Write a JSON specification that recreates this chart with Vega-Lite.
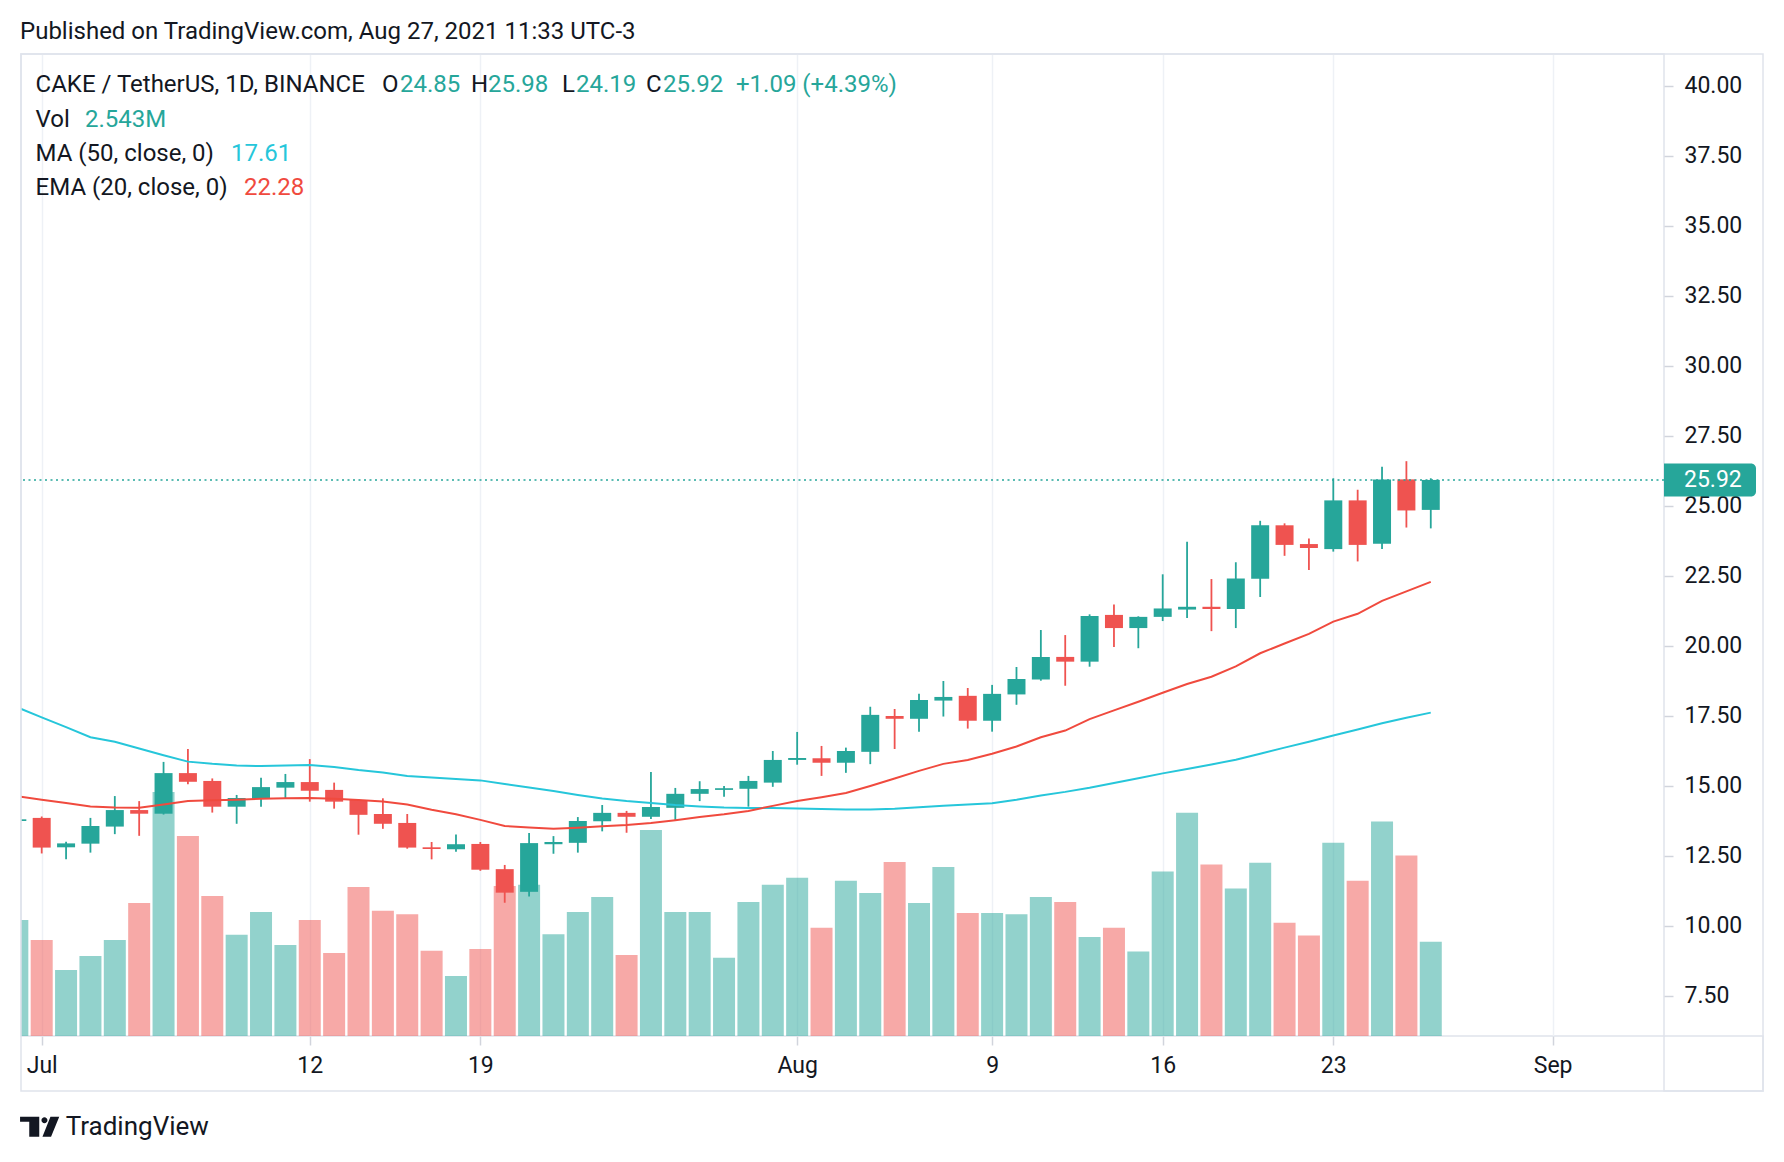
{
  "$schema": "https://vega.github.io/schema/vega-lite/v6.json",
  "width": 1643,
  "height": 982,
  "autosize": {"type": "none"},
  "padding": {"left": 21, "top": 54, "right": 120, "bottom": 126},
  "background": "#ffffff",
  "config": {
    "view": {"stroke": "#e0e3eb", "strokeWidth": 1.5},
    "font": "Roboto",
    "axisX": {"domain": false, "ticks": true, "tickSize": 9, "tickColor": "#d1d4dc", "tickWidth": 1.5, "grid": true, "gridColor": "#eef1f6", "gridWidth": 1.5, "labelFont": "Roboto", "labelFontSize": 23, "labelColor": "#131722", "labelPadding": 20, "labelBaseline": "middle", "labelFlush": false, "labelOverlap": false},
    "axisY": {"domain": false, "ticks": true, "tickSize": 9, "tickColor": "#d1d4dc", "tickWidth": 1.5, "grid": true, "gridColor": "#eef1f6", "gridWidth": 1.5, "labelFont": "Roboto", "labelFontSize": 23, "labelColor": "#131722", "labelAlign": "left", "labelBaseline": "middle", "labelPadding": 11, "labelFlush": false, "labelOverlap": false}
  },
  "datasets": {
    "candles": [
      {"date":"2021-06-30","open":13.74,"high":14.3,"low":13.3,"close":13.8,"volume":3.13,"ma50":17.8,"ema20":14.62},
      {"date":"2021-07-01","open":13.85,"high":13.9,"low":12.58,"close":12.79,"volume":2.59,"ma50":17.44,"ema20":14.5},
      {"date":"2021-07-02","open":12.8,"high":13.0,"low":12.37,"close":12.94,"volume":1.78,"ma50":17.09,"ema20":14.38},
      {"date":"2021-07-03","open":12.93,"high":13.85,"low":12.61,"close":13.56,"volume":2.16,"ma50":16.73,"ema20":14.26},
      {"date":"2021-07-04","open":13.54,"high":14.63,"low":13.27,"close":14.13,"volume":2.59,"ma50":16.57,"ema20":14.22},
      {"date":"2021-07-05","open":14.13,"high":14.45,"low":13.21,"close":14.0,"volume":3.59,"ma50":16.33,"ema20":14.21},
      {"date":"2021-07-06","open":14.0,"high":15.85,"low":13.97,"close":15.45,"volume":6.59,"ma50":16.09,"ema20":14.33},
      {"date":"2021-07-07","open":15.45,"high":16.31,"low":15.05,"close":15.14,"volume":5.4,"ma50":15.86,"ema20":14.45},
      {"date":"2021-07-08","open":15.17,"high":15.26,"low":14.04,"close":14.25,"volume":3.78,"ma50":15.78,"ema20":14.48},
      {"date":"2021-07-09","open":14.25,"high":14.67,"low":13.64,"close":14.56,"volume":2.73,"ma50":15.72,"ema20":14.5},
      {"date":"2021-07-10","open":14.53,"high":15.28,"low":14.25,"close":14.95,"volume":3.35,"ma50":15.7,"ema20":14.53},
      {"date":"2021-07-11","open":14.93,"high":15.42,"low":14.55,"close":15.13,"volume":2.46,"ma50":15.72,"ema20":14.55},
      {"date":"2021-07-12","open":15.13,"high":15.95,"low":14.43,"close":14.82,"volume":3.13,"ma50":15.74,"ema20":14.56},
      {"date":"2021-07-13","open":14.85,"high":15.11,"low":14.18,"close":14.43,"volume":2.24,"ma50":15.67,"ema20":14.53},
      {"date":"2021-07-14","open":14.49,"high":14.52,"low":13.25,"close":13.96,"volume":4.02,"ma50":15.56,"ema20":14.49},
      {"date":"2021-07-15","open":13.99,"high":14.55,"low":13.46,"close":13.64,"volume":3.38,"ma50":15.47,"ema20":14.44},
      {"date":"2021-07-16","open":13.67,"high":13.99,"low":12.75,"close":12.79,"volume":3.29,"ma50":15.35,"ema20":14.33},
      {"date":"2021-07-17","open":12.8,"high":12.99,"low":12.37,"close":12.74,"volume":2.3,"ma50":15.29,"ema20":14.14},
      {"date":"2021-07-18","open":12.73,"high":13.26,"low":12.64,"close":12.91,"volume":1.62,"ma50":15.24,"ema20":13.98},
      {"date":"2021-07-19","open":12.92,"high":12.99,"low":11.96,"close":12.0,"volume":2.35,"ma50":15.19,"ema20":13.78},
      {"date":"2021-07-20","open":12.02,"high":12.17,"low":10.82,"close":11.18,"volume":4.05,"ma50":15.06,"ema20":13.56},
      {"date":"2021-07-21","open":11.21,"high":13.31,"low":11.04,"close":12.95,"volume":4.08,"ma50":14.94,"ema20":13.51},
      {"date":"2021-07-22","open":12.91,"high":13.2,"low":12.57,"close":12.99,"volume":2.75,"ma50":14.81,"ema20":13.46},
      {"date":"2021-07-23","open":12.96,"high":13.88,"low":12.61,"close":13.74,"volume":3.35,"ma50":14.67,"ema20":13.5},
      {"date":"2021-07-24","open":13.73,"high":14.31,"low":13.37,"close":14.03,"volume":3.75,"ma50":14.54,"ema20":13.55},
      {"date":"2021-07-25","open":14.03,"high":14.1,"low":13.32,"close":13.89,"volume":2.19,"ma50":14.45,"ema20":13.6},
      {"date":"2021-07-26","open":13.89,"high":15.49,"low":13.81,"close":14.24,"volume":5.56,"ma50":14.38,"ema20":13.67},
      {"date":"2021-07-27","open":14.21,"high":14.92,"low":13.77,"close":14.71,"volume":3.35,"ma50":14.31,"ema20":13.77},
      {"date":"2021-07-28","open":14.71,"high":15.16,"low":14.45,"close":14.88,"volume":3.35,"ma50":14.26,"ema20":13.88},
      {"date":"2021-07-29","open":14.85,"high":14.99,"low":14.61,"close":14.91,"volume":2.11,"ma50":14.22,"ema20":13.98},
      {"date":"2021-07-30","open":14.89,"high":15.35,"low":14.25,"close":15.17,"volume":3.62,"ma50":14.2,"ema20":14.1},
      {"date":"2021-07-31","open":15.11,"high":16.24,"low":14.96,"close":15.92,"volume":4.08,"ma50":14.2,"ema20":14.28},
      {"date":"2021-08-01","open":15.92,"high":16.92,"low":15.75,"close":15.99,"volume":4.27,"ma50":14.19,"ema20":14.45},
      {"date":"2021-08-02","open":15.98,"high":16.42,"low":15.35,"close":15.82,"volume":2.92,"ma50":14.17,"ema20":14.59},
      {"date":"2021-08-03","open":15.82,"high":16.36,"low":15.46,"close":16.24,"volume":4.19,"ma50":14.15,"ema20":14.74},
      {"date":"2021-08-04","open":16.21,"high":17.82,"low":15.77,"close":17.53,"volume":3.86,"ma50":14.15,"ema20":14.99},
      {"date":"2021-08-05","open":17.49,"high":17.74,"low":16.31,"close":17.39,"volume":4.7,"ma50":14.18,"ema20":15.26},
      {"date":"2021-08-06","open":17.39,"high":18.28,"low":16.93,"close":18.06,"volume":3.59,"ma50":14.23,"ema20":15.53},
      {"date":"2021-08-07","open":18.04,"high":18.74,"low":17.47,"close":18.17,"volume":4.56,"ma50":14.28,"ema20":15.78},
      {"date":"2021-08-08","open":18.21,"high":18.49,"low":17.04,"close":17.32,"volume":3.32,"ma50":14.33,"ema20":15.92},
      {"date":"2021-08-09","open":17.32,"high":18.6,"low":16.93,"close":18.28,"volume":3.32,"ma50":14.37,"ema20":16.14},
      {"date":"2021-08-10","open":18.26,"high":19.24,"low":17.89,"close":18.81,"volume":3.29,"ma50":14.5,"ema20":16.4},
      {"date":"2021-08-11","open":18.79,"high":20.56,"low":18.75,"close":19.6,"volume":3.75,"ma50":14.65,"ema20":16.73},
      {"date":"2021-08-12","open":19.6,"high":20.38,"low":18.57,"close":19.43,"volume":3.62,"ma50":14.78,"ema20":16.97},
      {"date":"2021-08-13","open":19.43,"high":21.12,"low":19.25,"close":21.06,"volume":2.67,"ma50":14.93,"ema20":17.38},
      {"date":"2021-08-14","open":21.1,"high":21.47,"low":19.95,"close":20.63,"volume":2.92,"ma50":15.1,"ema20":17.69},
      {"date":"2021-08-15","open":20.63,"high":21.05,"low":19.91,"close":21.03,"volume":2.28,"ma50":15.27,"ema20":18.0},
      {"date":"2021-08-16","open":21.03,"high":22.55,"low":20.88,"close":21.33,"volume":4.44,"ma50":15.44,"ema20":18.32},
      {"date":"2021-08-17","open":21.29,"high":23.71,"low":20.99,"close":21.39,"volume":6.03,"ma50":15.6,"ema20":18.63},
      {"date":"2021-08-18","open":21.39,"high":22.38,"low":20.52,"close":21.31,"volume":4.63,"ma50":15.76,"ema20":18.89},
      {"date":"2021-08-19","open":21.31,"high":22.98,"low":20.63,"close":22.4,"volume":3.98,"ma50":15.93,"ema20":19.26},
      {"date":"2021-08-20","open":22.39,"high":24.46,"low":21.74,"close":24.3,"volume":4.68,"ma50":16.14,"ema20":19.73},
      {"date":"2021-08-21","open":24.3,"high":24.37,"low":23.21,"close":23.6,"volume":3.06,"ma50":16.36,"ema20":20.08},
      {"date":"2021-08-22","open":23.63,"high":23.83,"low":22.7,"close":23.49,"volume":2.71,"ma50":16.57,"ema20":20.42},
      {"date":"2021-08-23","open":23.45,"high":25.98,"low":23.36,"close":25.19,"volume":5.22,"ma50":16.79,"ema20":20.86},
      {"date":"2021-08-24","open":25.19,"high":25.57,"low":23.01,"close":23.6,"volume":4.19,"ma50":17.01,"ema20":21.14},
      {"date":"2021-08-25","open":23.64,"high":26.39,"low":23.45,"close":25.94,"volume":5.79,"ma50":17.23,"ema20":21.6},
      {"date":"2021-08-26","open":25.94,"high":26.59,"low":24.22,"close":24.83,"volume":4.87,"ma50":17.43,"ema20":21.94},
      {"date":"2021-08-27","open":24.85,"high":25.98,"low":24.19,"close":25.92,"volume":2.543,"ma50":17.61,"ema20":22.28}
    ]
  },
  "data": {"name": "candles"},
  "resolve": {"scale": {"y": "independent"}},
  "layer": [
    {
      "mark": {"type": "bar", "width": 22, "clip": true, "fillOpacity": 0.5},
      "encoding": {
        "x": {
          "field": "date",
          "type": "temporal",
          "title": null,
          "scale": {"type": "utc", "domain": [1625024210220, 1630849302420], "nice": false, "padding": 0},
          "axis": {
            "values": [1625097600000, 1626048000000, 1626652800000, 1627776000000, 1628467200000, 1629072000000, 1629676800000, 1630454400000],
            "labelExpr": "utcdate(datum.value) == 1 ? utcFormat(datum.value, '%b') : utcFormat(datum.value, '%-d')",
            "title": null
          }
        },
        "y": {"field": "volume", "type": "quantitative", "title": null, "scale": {"domain": [0, 26.51], "nice": false, "zero": true, "padding": 0}, "axis": null},
        "color": {"condition": {"test": "datum.close >= datum.open", "value": "#26a69a"}, "value": "#ef5350"}
      }
    },
    {
      "layer": [
        {
          "mark": {"type": "rule", "strokeWidth": 1.8, "clip": true},
          "encoding": {
            "x": {"field": "date", "type": "temporal", "title": null},
            "y": {
              "field": "low",
              "type": "quantitative",
              "title": null,
              "scale": {"domain": [6.061, 41.132], "nice": false, "zero": false, "padding": 0},
              "axis": {
                "orient": "right",
                "values": [7.5, 10, 12.5, 15, 17.5, 20, 22.5, 25, 27.5, 30, 32.5, 35, 37.5, 40],
                "format": ".2f",
                "title": null
              }
            },
            "y2": {"field": "high"},
            "color": {"condition": {"test": "datum.close >= datum.open", "value": "#26a69a"}, "value": "#ef5350"}
          }
        },
        {
          "mark": {"type": "bar", "width": 18, "clip": true},
          "encoding": {
            "x": {"field": "date", "type": "temporal", "title": null},
            "y": {"field": "open", "type": "quantitative", "title": null},
            "y2": {"field": "close"},
            "color": {"condition": {"test": "datum.close >= datum.open", "value": "#26a69a"}, "value": "#ef5350"}
          }
        },
        {
          "mark": {"type": "line", "color": "#26c6da", "strokeWidth": 2, "clip": true},
          "encoding": {
            "x": {"field": "date", "type": "temporal", "title": null},
            "y": {"field": "ma50", "type": "quantitative", "title": null}
          }
        },
        {
          "mark": {"type": "line", "color": "#f04a3e", "strokeWidth": 2, "clip": true},
          "encoding": {
            "x": {"field": "date", "type": "temporal", "title": null},
            "y": {"field": "ema20", "type": "quantitative", "title": null}
          }
        },
        {
          "data": {"values": [{"last": 25.92}]},
          "mark": {"type": "rule", "color": "#26a69a", "strokeWidth": 1.5, "strokeDash": [2, 3.5]},
          "encoding": {"y": {"field": "last", "type": "quantitative", "title": null}}
        },
        {
          "data": {"values": [{"last": 25.92}]},
          "mark": {"type": "rect", "color": "#26a69a", "cornerRadiusTopRight": 5, "cornerRadiusBottomRight": 5},
          "encoding": {
            "x": {"datum": {"expr": "utc(2021, 8, 5, 13, 42)"}, "type": "temporal", "title": null},
            "x2": {"datum": {"expr": "utc(2021, 8, 9, 8, 18)"}},
            "y": {"datum": 25.331, "type": "quantitative", "title": null},
            "y2": {"datum": 26.509}
          }
        },
        {
          "data": {"values": [{"t": "25.92"}]},
          "mark": {"type": "text", "align": "left", "baseline": "middle", "font": "Roboto", "fontSize": 23, "color": "#ffffff"},
          "encoding": {
            "x": {"datum": {"expr": "utc(2021, 8, 6, 9, 24)"}, "type": "temporal", "title": null},
            "y": {"datum": 25.92, "type": "quantitative", "title": null},
            "text": {"field": "t"}
          }
        },
        {
          "data": {"values": [{"frame": "outer"}]},
          "mark": {"type": "rect", "fillOpacity": 0, "stroke": "#e0e3eb", "strokeWidth": 1.5},
          "encoding": {
            "x": {"datum": {"expr": "utc(2021, 5, 30, 3, 37)"}, "type": "temporal", "title": null},
            "x2": {"datum": {"expr": "utc(2021, 8, 9, 15, 12)"}},
            "y": {"datum": 41.132, "type": "quantitative", "title": null},
            "y2": {"datum": 4.096}
          }
        },
        {
          "data": {"values": [{"frame": "corner"}]},
          "mark": {"type": "rect", "fillOpacity": 0, "stroke": "#e0e3eb", "strokeWidth": 1.5},
          "encoding": {
            "x": {"datum": {"expr": "utc(2021, 8, 5, 13, 42)"}, "type": "temporal", "title": null},
            "x2": {"datum": {"expr": "utc(2021, 8, 9, 15, 12)"}},
            "y": {"datum": 6.061, "type": "quantitative", "title": null},
            "y2": {"datum": 4.096}
          }
        },
        {
          "data": {"values": [{"t": "Published on TradingView.com, Aug 27, 2021 11:33 UTC-3"}]},
          "mark": {"type": "text", "align": "left", "baseline": "middle", "font": "Roboto", "fontSize": 24, "color": "#131722"},
          "encoding": {"x": {"datum": {"expr": "utc(2021, 5, 30, 2, 38)"}, "type": "temporal", "title": null}, "y": {"datum": 41.93, "type": "quantitative", "title": null}, "text": {"field": "t"}}
        },
        {
          "data": {"values": [{"t": "CAKE / TetherUS, 1D, BINANCE"}]},
          "mark": {"type": "text", "align": "left", "baseline": "middle", "font": "Roboto", "fontSize": 24, "color": "#131722"},
          "encoding": {"x": {"datum": {"expr": "utc(2021, 5, 30, 17, 59)"}, "type": "temporal", "title": null}, "y": {"datum": 40.025, "type": "quantitative", "title": null}, "text": {"field": "t"}}
        },
        {
          "data": {"values": [{"t": "O"}]},
          "mark": {"type": "text", "align": "left", "baseline": "middle", "font": "Roboto", "fontSize": 24, "color": "#131722"},
          "encoding": {"x": {"datum": {"expr": "utc(2021, 6, 14, 23, 8)"}, "type": "temporal", "title": null}, "y": {"datum": 40.025, "type": "quantitative", "title": null}, "text": {"field": "t"}}
        },
        {
          "data": {"values": [{"t": "24.85"}]},
          "mark": {"type": "text", "align": "left", "baseline": "middle", "font": "Roboto", "fontSize": 24, "color": "#26a69a"},
          "encoding": {"x": {"datum": {"expr": "utc(2021, 6, 15, 16, 52)"}, "type": "temporal", "title": null}, "y": {"datum": 40.025, "type": "quantitative", "title": null}, "text": {"field": "t"}}
        },
        {
          "data": {"values": [{"t": "H"}]},
          "mark": {"type": "text", "align": "left", "baseline": "middle", "font": "Roboto", "fontSize": 24, "color": "#131722"},
          "encoding": {"x": {"datum": {"expr": "utc(2021, 6, 18, 14, 47)"}, "type": "temporal", "title": null}, "y": {"datum": 40.025, "type": "quantitative", "title": null}, "text": {"field": "t"}}
        },
        {
          "data": {"values": [{"t": "25.98"}]},
          "mark": {"type": "text", "align": "left", "baseline": "middle", "font": "Roboto", "fontSize": 24, "color": "#26a69a"},
          "encoding": {"x": {"datum": {"expr": "utc(2021, 6, 19, 7, 32)"}, "type": "temporal", "title": null}, "y": {"datum": 40.025, "type": "quantitative", "title": null}, "text": {"field": "t"}}
        },
        {
          "data": {"values": [{"t": "L"}]},
          "mark": {"type": "text", "align": "left", "baseline": "middle", "font": "Roboto", "fontSize": 24, "color": "#131722"},
          "encoding": {"x": {"datum": {"expr": "utc(2021, 6, 22, 8, 25)"}, "type": "temporal", "title": null}, "y": {"datum": 40.025, "type": "quantitative", "title": null}, "text": {"field": "t"}}
        },
        {
          "data": {"values": [{"t": "24.19"}]},
          "mark": {"type": "text", "align": "left", "baseline": "middle", "font": "Roboto", "fontSize": 24, "color": "#26a69a"},
          "encoding": {"x": {"datum": {"expr": "utc(2021, 6, 22, 22, 12)"}, "type": "temporal", "title": null}, "y": {"datum": 40.025, "type": "quantitative", "title": null}, "text": {"field": "t"}}
        },
        {
          "data": {"values": [{"t": "C"}]},
          "mark": {"type": "text", "align": "left", "baseline": "middle", "font": "Roboto", "fontSize": 24, "color": "#131722"},
          "encoding": {"x": {"datum": {"expr": "utc(2021, 6, 25, 19, 8)"}, "type": "temporal", "title": null}, "y": {"datum": 40.025, "type": "quantitative", "title": null}, "text": {"field": "t"}}
        },
        {
          "data": {"values": [{"t": "25.92"}]},
          "mark": {"type": "text", "align": "left", "baseline": "middle", "font": "Roboto", "fontSize": 24, "color": "#26a69a"},
          "encoding": {"x": {"datum": {"expr": "utc(2021, 6, 26, 11, 53)"}, "type": "temporal", "title": null}, "y": {"datum": 40.025, "type": "quantitative", "title": null}, "text": {"field": "t"}}
        },
        {
          "data": {"values": [{"t": "+1.09 (+4.39%)"}]},
          "mark": {"type": "text", "align": "left", "baseline": "middle", "font": "Roboto", "fontSize": 24, "color": "#26a69a"},
          "encoding": {"x": {"datum": {"expr": "utc(2021, 6, 29, 11, 46)"}, "type": "temporal", "title": null}, "y": {"datum": 40.025, "type": "quantitative", "title": null}, "text": {"field": "t"}}
        },
        {
          "data": {"values": [{"t": "Vol"}]},
          "mark": {"type": "text", "align": "left", "baseline": "middle", "font": "Roboto", "fontSize": 24, "color": "#131722"},
          "encoding": {"x": {"datum": {"expr": "utc(2021, 5, 30, 17, 59)"}, "type": "temporal", "title": null}, "y": {"datum": 38.775, "type": "quantitative", "title": null}, "text": {"field": "t"}}
        },
        {
          "data": {"values": [{"t": "2.543M"}]},
          "mark": {"type": "text", "align": "left", "baseline": "middle", "font": "Roboto", "fontSize": 24, "color": "#26a69a"},
          "encoding": {"x": {"datum": {"expr": "utc(2021, 6, 2, 18, 39)"}, "type": "temporal", "title": null}, "y": {"datum": 38.775, "type": "quantitative", "title": null}, "text": {"field": "t"}}
        },
        {
          "data": {"values": [{"t": "MA (50, close, 0)"}]},
          "mark": {"type": "text", "align": "left", "baseline": "middle", "font": "Roboto", "fontSize": 24, "color": "#131722"},
          "encoding": {"x": {"datum": {"expr": "utc(2021, 5, 30, 17, 59)"}, "type": "temporal", "title": null}, "y": {"datum": 37.56, "type": "quantitative", "title": null}, "text": {"field": "t"}}
        },
        {
          "data": {"values": [{"t": "17.61"}]},
          "mark": {"type": "text", "align": "left", "baseline": "middle", "font": "Roboto", "fontSize": 24, "color": "#26c6da"},
          "encoding": {"x": {"datum": {"expr": "utc(2021, 6, 8, 18, 26)"}, "type": "temporal", "title": null}, "y": {"datum": 37.56, "type": "quantitative", "title": null}, "text": {"field": "t"}}
        },
        {
          "data": {"values": [{"t": "EMA (20, close, 0)"}]},
          "mark": {"type": "text", "align": "left", "baseline": "middle", "font": "Roboto", "fontSize": 24, "color": "#131722"},
          "encoding": {"x": {"datum": {"expr": "utc(2021, 5, 30, 17, 59)"}, "type": "temporal", "title": null}, "y": {"datum": 36.35, "type": "quantitative", "title": null}, "text": {"field": "t"}}
        },
        {
          "data": {"values": [{"t": "22.28"}]},
          "mark": {"type": "text", "align": "left", "baseline": "middle", "font": "Roboto", "fontSize": 24, "color": "#f04a3e"},
          "encoding": {"x": {"datum": {"expr": "utc(2021, 6, 9, 7, 14)"}, "type": "temporal", "title": null}, "y": {"datum": 36.35, "type": "quantitative", "title": null}, "text": {"field": "t"}}
        },
        {
          "data": {"values": [{"t": "TradingView logo"}]},
          "mark": {"type": "point", "filled": true, "opacity": 1, "size": 1600, "color": "#131722", "shape": "M-0.98,-0.5H-0.02V0.5H-0.52V-0.25H-0.98Z M0.09,-0.325a0.15,0.15 0 1,0 0.3,0a0.15,0.15 0 1,0 -0.3,0Z M0.54,-0.5H0.98L0.57,0.5H0.14Z"},
          "encoding": {"x": {"datum": {"expr": "utc(2021, 5, 30, 21, 59)"}, "type": "temporal", "title": null}, "y": {"datum": 2.82, "type": "quantitative", "title": null}}
        },
        {
          "data": {"values": [{"t": "TradingView"}]},
          "mark": {"type": "text", "align": "left", "baseline": "middle", "font": "Roboto", "fontSize": 26, "color": "#131722"},
          "encoding": {"x": {"datum": {"expr": "utc(2021, 6, 1, 23, 38)"}, "type": "temporal", "title": null}, "y": {"datum": 2.82, "type": "quantitative", "title": null}, "text": {"field": "t"}}
        }
      ]
    }
  ]
}
